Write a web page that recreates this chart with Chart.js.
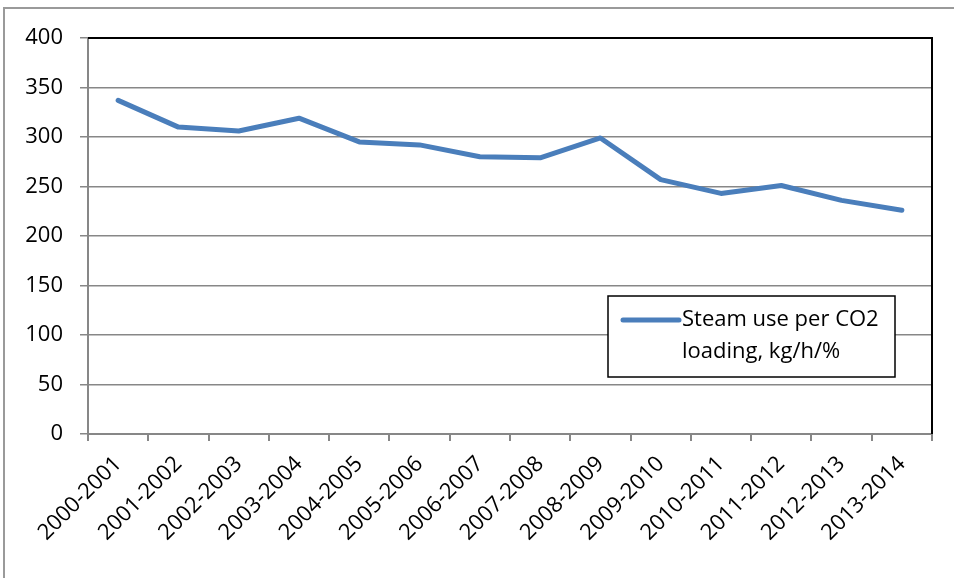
<!DOCTYPE html>
<html>
<head>
<meta charset="utf-8">
<script src="https://cdn.jsdelivr.net/npm/chart.js@4.4.1/dist/chart.umd.min.js"></script>
<style>
  html, body { margin: 0; padding: 0; background: #ffffff; }
  #wrap { position: relative; width: 954px; height: 578px; }
</style>
</head>
<body>
<div id="wrap"><canvas id="c" width="954" height="578"></canvas></div>
<script>
const categories = ['2000-2001','2001-2002','2002-2003','2003-2004','2004-2005','2005-2006','2006-2007','2007-2008','2008-2009','2009-2010','2010-2011','2011-2012','2012-2013','2013-2014'];
const steamUse = [337, 310, 306, 319, 295, 292, 280, 279, 299, 257, 243, 251, 236, 226];
const legendLines = ['Steam use per CO2', 'loading, kg/h/%'];
const yTicks = [0, 50, 100, 150, 200, 250, 300, 350, 400];

const FONT = '"Open Sans", "Liberation Sans", sans-serif';
const LINE_COLOR = '#4a7ebb';
const GRID = '#878787';

const frame = {
  id: 'frame',
  beforeDraw(chart) {
    const ctx = chart.ctx;
    ctx.save();
    ctx.strokeStyle = '#9a9a9a';
    ctx.lineWidth = 2;
    ctx.beginPath();
    ctx.moveTo(954, 8);
    ctx.lineTo(4, 8);
    ctx.lineTo(4, 578);
    ctx.stroke();
    ctx.restore();
  },
  afterDatasetsDraw(chart) {
    const ctx = chart.ctx;
    const a = chart.chartArea;
    ctx.save();
    ctx.strokeStyle = '#000000';
    ctx.lineWidth = 2;
    ctx.beginPath();
    ctx.moveTo(a.left, a.top);
    ctx.lineTo(a.right, a.top);
    ctx.lineTo(a.right, a.bottom);
    ctx.stroke();
    // legend box
    const bx = a.right - 324, by = a.top + 258, bw = 287, bh = 81;
    ctx.fillStyle = '#ffffff';
    ctx.fillRect(bx, by, bw, bh);
    ctx.lineWidth = 1.5;
    ctx.strokeStyle = '#000000';
    ctx.strokeRect(bx, by, bw, bh);
    ctx.strokeStyle = LINE_COLOR;
    ctx.lineWidth = 5;
    ctx.lineCap = 'round';
    ctx.beginPath();
    ctx.moveTo(bx + 15, by + 24);
    ctx.lineTo(bx + 71, by + 24);
    ctx.stroke();
    ctx.fillStyle = '#000000';
    ctx.font = '22px ' + FONT;
    ctx.textAlign = 'left';
    ctx.textBaseline = 'middle';
    legendLines.forEach((t, i) => ctx.fillText(t, bx + 74, by + 24 + i * 32));
    ctx.restore();
  }
};

new Chart(document.getElementById('c'), {
  type: 'line',
  data: {
    labels: categories,
    datasets: [{
      label: legendLines.join(' '),
      data: steamUse,
      borderColor: LINE_COLOR,
      backgroundColor: LINE_COLOR,
      borderWidth: 5,
      borderCapStyle: 'round',
      borderJoinStyle: 'round',
      pointRadius: 0,
      tension: 0,
      fill: false
    }]
  },
  options: {
    responsive: false,
    animation: false,
    devicePixelRatio: 1,
    layout: { padding: { top: 38, right: 22, left: 0, bottom: 0 } },
    plugins: { legend: { display: false }, tooltip: { enabled: false } },
    scales: {
      x: {
        offset: true,
        grid: { offset: true, drawOnChartArea: false, drawTicks: true, tickLength: 7, color: GRID, lineWidth: 2 },
        border: { color: GRID, width: 2 },
        ticks: { color: '#000', font: { family: FONT, size: 22 }, minRotation: 45, maxRotation: 45, autoSkip: false, padding: 10 },
        afterFit(s) { s.height = 144; }
      },
      y: {
        min: 0, max: 400,
        afterBuildTicks(s) { s.ticks = yTicks.map(v => ({ value: v })); },
        grid: { color: GRID, lineWidth: 1.5, tickLength: 8 },
        border: { color: GRID, width: 2 },
        ticks: { color: '#000', font: { family: FONT, size: 22 }, padding: 17 },
        afterFit(s) { s.width = 88; }
      }
    }
  },
  plugins: [frame]
});
</script>
</body>
</html>
